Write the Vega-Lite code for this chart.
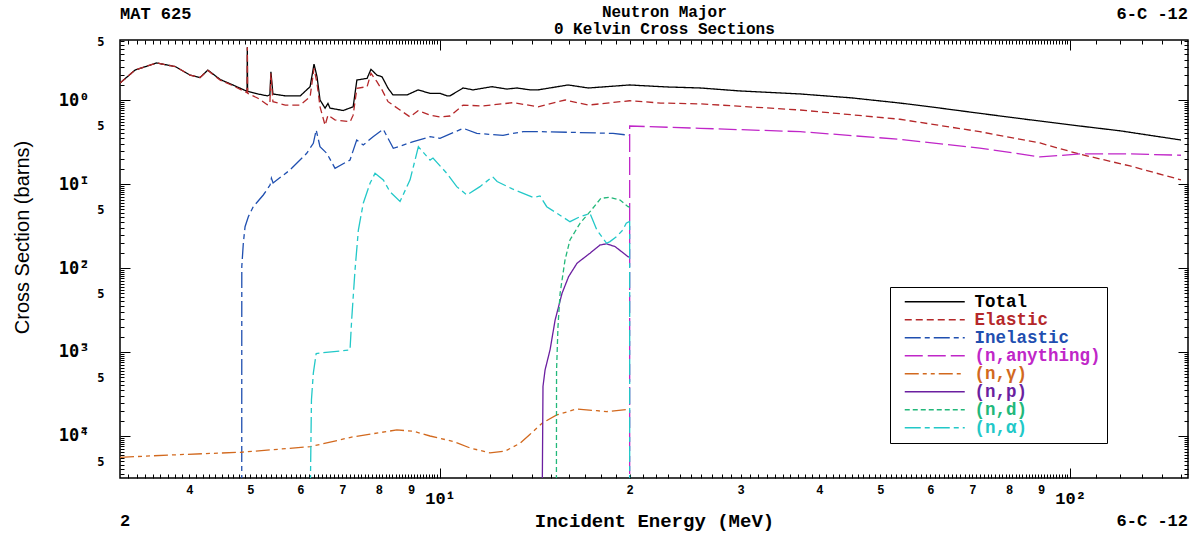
{
"$schema": "https://vega.github.io/schema/vega-lite/v6.json",
"width": 1068, "height": 438,
"autosize": "none",
"padding": {"left": 120, "top": 40, "right": 10, "bottom": 56},
"background": "white",
"config": {
  "view": {"stroke": "#000", "strokeWidth": 1.5},
  "font": "Liberation Mono",
  "axis": {"grid": false, "domain": false, "tickColor": "#000", "tickWidth": 1, "labelFont": "Liberation Mono", "labelFontWeight": "bold", "labelColor": "#000", "labelOverlap": false, "labelFlush": false, "titleColor": "#000"}
},
"datasets": {
"xs": [
{"reaction":"Total","energy":3.105,"xs":1.59},{"reaction":"Total","energy":3.28,"xs":2.27},{"reaction":"Total","energy":3.55,"xs":2.76},{"reaction":"Total","energy":3.8,"xs":2.5},{"reaction":"Total","energy":4.01,"xs":1.98},{"reaction":"Total","energy":4.16,"xs":1.85},{"reaction":"Total","energy":4.28,"xs":2.27},{"reaction":"Total","energy":4.48,"xs":1.75},{"reaction":"Total","energy":4.69,"xs":1.51},{"reaction":"Total","energy":4.94,"xs":1.27},{"reaction":"Total","energy":4.945,"xs":4.25},{"reaction":"Total","energy":4.95,"xs":1.27},{"reaction":"Total","energy":5.14,"xs":1.18},{"reaction":"Total","energy":5.32,"xs":1.12},{"reaction":"Total","energy":5.37,"xs":1.15},{"reaction":"Total","energy":5.39,"xs":2.17},{"reaction":"Total","energy":5.43,"xs":1.18},{"reaction":"Total","energy":5.68,"xs":1.12},{"reaction":"Total","energy":6.0,"xs":1.12},{"reaction":"Total","energy":6.22,"xs":1.44},{"reaction":"Total","energy":6.31,"xs":2.68},{"reaction":"Total","energy":6.38,"xs":1.89},{"reaction":"Total","energy":6.45,"xs":1.0},{"reaction":"Total","energy":6.57,"xs":0.8},{"reaction":"Total","energy":6.64,"xs":0.91},{"reaction":"Total","energy":6.69,"xs":0.8},{"reaction":"Total","energy":7.02,"xs":0.75},{"reaction":"Total","energy":7.28,"xs":0.83},{"reaction":"Total","energy":7.38,"xs":1.73},{"reaction":"Total","energy":7.66,"xs":1.81},{"reaction":"Total","energy":7.77,"xs":2.32},{"reaction":"Total","energy":7.94,"xs":1.98},{"reaction":"Total","energy":8.09,"xs":1.89},{"reaction":"Total","energy":8.27,"xs":1.38},{"reaction":"Total","energy":8.42,"xs":1.15},{"reaction":"Total","energy":8.87,"xs":1.15},{"reaction":"Total","energy":9.23,"xs":1.32},{"reaction":"Total","energy":9.64,"xs":1.2},{"reaction":"Total","energy":10.0,"xs":1.2},{"reaction":"Total","energy":10.26,"xs":1.12},{"reaction":"Total","energy":10.37,"xs":1.12},{"reaction":"Total","energy":10.88,"xs":1.39},{"reaction":"Total","energy":11.28,"xs":1.32},{"reaction":"Total","energy":12.09,"xs":1.44},{"reaction":"Total","energy":12.77,"xs":1.35},{"reaction":"Total","energy":13.25,"xs":1.39},{"reaction":"Total","energy":13.9,"xs":1.32},{"reaction":"Total","energy":14.31,"xs":1.32},{"reaction":"Total","energy":15.97,"xs":1.51},{"reaction":"Total","energy":17.2,"xs":1.39},{"reaction":"Total","energy":20.0,"xs":1.51},{"reaction":"Total","energy":22.9,"xs":1.43},{"reaction":"Total","energy":25.9,"xs":1.39},{"reaction":"Total","energy":30,"xs":1.28},{"reaction":"Total","energy":37.3,"xs":1.18},{"reaction":"Total","energy":45,"xs":1.06},{"reaction":"Total","energy":53.7,"xs":0.92},{"reaction":"Total","energy":60,"xs":0.83},{"reaction":"Total","energy":71.9,"xs":0.694},{"reaction":"Total","energy":85,"xs":0.59},{"reaction":"Total","energy":103.7,"xs":0.49},{"reaction":"Total","energy":120,"xs":0.43},{"reaction":"Total","energy":150,"xs":0.334},
{"reaction":"Elastic","energy":3.105,"xs":1.59},{"reaction":"Elastic","energy":3.28,"xs":2.27},{"reaction":"Elastic","energy":3.55,"xs":2.76},{"reaction":"Elastic","energy":3.8,"xs":2.5},{"reaction":"Elastic","energy":4.01,"xs":1.98},{"reaction":"Elastic","energy":4.16,"xs":1.85},{"reaction":"Elastic","energy":4.28,"xs":2.25},{"reaction":"Elastic","energy":4.48,"xs":1.72},{"reaction":"Elastic","energy":4.69,"xs":1.48},{"reaction":"Elastic","energy":4.94,"xs":1.22},{"reaction":"Elastic","energy":4.945,"xs":4.25},{"reaction":"Elastic","energy":4.95,"xs":1.2},{"reaction":"Elastic","energy":5.14,"xs":1.05},{"reaction":"Elastic","energy":5.32,"xs":0.88},{"reaction":"Elastic","energy":5.37,"xs":0.9},{"reaction":"Elastic","energy":5.39,"xs":2.08},{"reaction":"Elastic","energy":5.43,"xs":0.955},{"reaction":"Elastic","energy":5.68,"xs":0.87},{"reaction":"Elastic","energy":6.0,"xs":0.87},{"reaction":"Elastic","energy":6.22,"xs":1.09},{"reaction":"Elastic","energy":6.31,"xs":2.38},{"reaction":"Elastic","energy":6.38,"xs":1.58},{"reaction":"Elastic","energy":6.45,"xs":0.83},{"reaction":"Elastic","energy":6.57,"xs":0.5},{"reaction":"Elastic","energy":6.64,"xs":0.66},{"reaction":"Elastic","energy":6.81,"xs":0.58},{"reaction":"Elastic","energy":7.2,"xs":0.55},{"reaction":"Elastic","energy":7.28,"xs":0.66},{"reaction":"Elastic","energy":7.38,"xs":1.38},{"reaction":"Elastic","energy":7.66,"xs":1.44},{"reaction":"Elastic","energy":7.77,"xs":2.08},{"reaction":"Elastic","energy":7.94,"xs":1.65},{"reaction":"Elastic","energy":8.09,"xs":1.32},{"reaction":"Elastic","energy":8.27,"xs":0.955},{"reaction":"Elastic","energy":8.64,"xs":0.76},{"reaction":"Elastic","energy":8.96,"xs":0.63},{"reaction":"Elastic","energy":9.23,"xs":0.746},{"reaction":"Elastic","energy":9.64,"xs":0.66},{"reaction":"Elastic","energy":10.0,"xs":0.63},{"reaction":"Elastic","energy":10.37,"xs":0.645},{"reaction":"Elastic","energy":10.88,"xs":0.87},{"reaction":"Elastic","energy":11.7,"xs":0.85},{"reaction":"Elastic","energy":13.06,"xs":0.93},{"reaction":"Elastic","energy":14.31,"xs":0.83},{"reaction":"Elastic","energy":15.8,"xs":1.0},{"reaction":"Elastic","energy":17.2,"xs":0.87},{"reaction":"Elastic","energy":20.0,"xs":0.98},{"reaction":"Elastic","energy":22.4,"xs":0.92},{"reaction":"Elastic","energy":25.9,"xs":0.9},{"reaction":"Elastic","energy":37.3,"xs":0.76},{"reaction":"Elastic","energy":53.7,"xs":0.59},{"reaction":"Elastic","energy":71.9,"xs":0.42},{"reaction":"Elastic","energy":89.6,"xs":0.308},{"reaction":"Elastic","energy":103.7,"xs":0.226},{"reaction":"Elastic","energy":124.5,"xs":0.164},{"reaction":"Elastic","energy":150,"xs":0.112},
{"reaction":"Inelastic","energy":4.845,"xs":0.00001},{"reaction":"Inelastic","energy":4.846,"xs":0.0104},{"reaction":"Inelastic","energy":4.873,"xs":0.0197},{"reaction":"Inelastic","energy":4.904,"xs":0.031},{"reaction":"Inelastic","energy":4.963,"xs":0.0408},{"reaction":"Inelastic","energy":5.054,"xs":0.0537},{"reaction":"Inelastic","energy":5.242,"xs":0.074},{"reaction":"Inelastic","energy":5.373,"xs":0.097},{"reaction":"Inelastic","energy":5.4,"xs":0.117},{"reaction":"Inelastic","energy":5.433,"xs":0.103},{"reaction":"Inelastic","energy":5.78,"xs":0.147},{"reaction":"Inelastic","energy":6.143,"xs":0.232},{"reaction":"Inelastic","energy":6.294,"xs":0.305},{"reaction":"Inelastic","energy":6.36,"xs":0.44},{"reaction":"Inelastic","energy":6.449,"xs":0.278},{"reaction":"Inelastic","energy":6.61,"xs":0.232},{"reaction":"Inelastic","energy":6.813,"xs":0.154},{"reaction":"Inelastic","energy":7.197,"xs":0.193},{"reaction":"Inelastic","energy":7.375,"xs":0.334},{"reaction":"Inelastic","energy":7.554,"xs":0.291},{"reaction":"Inelastic","energy":7.83,"xs":0.366},{"reaction":"Inelastic","energy":8.128,"xs":0.448},{"reaction":"Inelastic","energy":8.43,"xs":0.266},{"reaction":"Inelastic","energy":9.07,"xs":0.319},{"reaction":"Inelastic","energy":9.642,"xs":0.366},{"reaction":"Inelastic","energy":10.0,"xs":0.35},{"reaction":"Inelastic","energy":10.89,"xs":0.46},{"reaction":"Inelastic","energy":11.44,"xs":0.4},{"reaction":"Inelastic","energy":12.59,"xs":0.38},{"reaction":"Inelastic","energy":13.55,"xs":0.42},{"reaction":"Inelastic","energy":14.41,"xs":0.42},{"reaction":"Inelastic","energy":16.68,"xs":0.41},{"reaction":"Inelastic","energy":18.82,"xs":0.4},{"reaction":"Inelastic","energy":20.0,"xs":0.38},
{"reaction":"(n,anything)","energy":20.0,"xs":0.00001},{"reaction":"(n,anything)","energy":20.0,"xs":0.49},{"reaction":"(n,anything)","energy":25.9,"xs":0.46},{"reaction":"(n,anything)","energy":37.3,"xs":0.42},{"reaction":"(n,anything)","energy":53.7,"xs":0.34},{"reaction":"(n,anything)","energy":71.9,"xs":0.268},{"reaction":"(n,anything)","energy":89.6,"xs":0.21},{"reaction":"(n,anything)","energy":103.7,"xs":0.228},{"reaction":"(n,anything)","energy":124.5,"xs":0.228},{"reaction":"(n,anything)","energy":150,"xs":0.22},
{"reaction":"(n,γ)","energy":3.105,"xs":0.0000557},{"reaction":"(n,γ)","energy":3.73,"xs":0.0000594},{"reaction":"(n,γ)","energy":4.82,"xs":0.000064},{"reaction":"(n,γ)","energy":6.22,"xs":0.0000746},{"reaction":"(n,γ)","energy":7.29,"xs":0.000098},{"reaction":"(n,γ)","energy":8.54,"xs":0.000118},{"reaction":"(n,γ)","energy":9.07,"xs":0.000114},{"reaction":"(n,γ)","energy":9.64,"xs":0.0001},{"reaction":"(n,γ)","energy":10.5,"xs":0.000086},{"reaction":"(n,γ)","energy":11.16,"xs":0.000072},{"reaction":"(n,γ)","energy":12.0,"xs":0.000063},{"reaction":"(n,γ)","energy":12.68,"xs":0.000066},{"reaction":"(n,γ)","energy":13.4,"xs":0.000082},{"reaction":"(n,γ)","energy":13.9,"xs":0.000105},{"reaction":"(n,γ)","energy":14.52,"xs":0.000142},{"reaction":"(n,γ)","energy":15.32,"xs":0.000178},{"reaction":"(n,γ)","energy":16.48,"xs":0.00021},{"reaction":"(n,γ)","energy":17.74,"xs":0.0002},{"reaction":"(n,γ)","energy":18.38,"xs":0.000195},{"reaction":"(n,γ)","energy":19.89,"xs":0.000207},{"reaction":"(n,γ)","energy":20.0,"xs":0.000207},
{"reaction":"(n,p)","energy":14.52,"xs":0.00001},{"reaction":"(n,p)","energy":14.57,"xs":0.00039},{"reaction":"(n,p)","energy":14.68,"xs":0.00061},{"reaction":"(n,p)","energy":14.95,"xs":0.00106},{"reaction":"(n,p)","energy":15.23,"xs":0.0024},{"reaction":"(n,p)","energy":15.62,"xs":0.005},{"reaction":"(n,p)","energy":16.0,"xs":0.0079},{"reaction":"(n,p)","energy":16.5,"xs":0.0114},{"reaction":"(n,p)","energy":17.3,"xs":0.015},{"reaction":"(n,p)","energy":17.95,"xs":0.0188},{"reaction":"(n,p)","energy":18.38,"xs":0.0194},{"reaction":"(n,p)","energy":18.96,"xs":0.018},{"reaction":"(n,p)","energy":19.89,"xs":0.0136},{"reaction":"(n,p)","energy":20.0,"xs":0.0135},
{"reaction":"(n,d)","energy":15.3,"xs":0.00001},{"reaction":"(n,d)","energy":15.31,"xs":0.0006},{"reaction":"(n,d)","energy":15.39,"xs":0.002},{"reaction":"(n,d)","energy":15.51,"xs":0.005},{"reaction":"(n,d)","energy":15.79,"xs":0.0124},{"reaction":"(n,d)","energy":16.08,"xs":0.0216},{"reaction":"(n,d)","energy":16.68,"xs":0.034},{"reaction":"(n,d)","energy":17.3,"xs":0.0468},{"reaction":"(n,d)","energy":18.0,"xs":0.0675},{"reaction":"(n,d)","energy":18.61,"xs":0.0694},{"reaction":"(n,d)","energy":19.31,"xs":0.0645},{"reaction":"(n,d)","energy":19.88,"xs":0.0537},{"reaction":"(n,d)","energy":20.0,"xs":0.053},
{"reaction":"(n,α)","energy":6.217,"xs":0.00001},{"reaction":"(n,α)","energy":6.251,"xs":0.00027},{"reaction":"(n,α)","energy":6.294,"xs":0.00056},{"reaction":"(n,α)","energy":6.36,"xs":0.00096},{"reaction":"(n,α)","energy":7.197,"xs":0.00106},{"reaction":"(n,α)","energy":7.24,"xs":0.0024},{"reaction":"(n,α)","energy":7.33,"xs":0.0095},{"reaction":"(n,α)","energy":7.42,"xs":0.0283},{"reaction":"(n,α)","energy":7.554,"xs":0.059},{"reaction":"(n,α)","energy":7.743,"xs":0.102},{"reaction":"(n,α)","energy":7.886,"xs":0.134},{"reaction":"(n,α)","energy":8.128,"xs":0.112},{"reaction":"(n,α)","energy":8.328,"xs":0.081},{"reaction":"(n,α)","energy":8.641,"xs":0.062},{"reaction":"(n,α)","energy":8.963,"xs":0.112},{"reaction":"(n,α)","energy":9.24,"xs":0.278},{"reaction":"(n,α)","energy":9.642,"xs":0.193},{"reaction":"(n,α)","energy":9.747,"xs":0.204},{"reaction":"(n,α)","energy":10.25,"xs":0.134},{"reaction":"(n,α)","energy":10.63,"xs":0.093},{"reaction":"(n,α)","energy":11.03,"xs":0.074},{"reaction":"(n,α)","energy":11.57,"xs":0.093},{"reaction":"(n,α)","energy":12.12,"xs":0.122},{"reaction":"(n,α)","energy":12.32,"xs":0.107},{"reaction":"(n,α)","energy":13.0,"xs":0.088},{"reaction":"(n,α)","energy":14.06,"xs":0.069},{"reaction":"(n,α)","energy":14.41,"xs":0.072},{"reaction":"(n,α)","energy":14.77,"xs":0.0537},{"reaction":"(n,α)","energy":16.08,"xs":0.0356},{"reaction":"(n,α)","energy":16.68,"xs":0.0408},{"reaction":"(n,α)","energy":17.3,"xs":0.0446},{"reaction":"(n,α)","energy":17.74,"xs":0.0283},{"reaction":"(n,α)","energy":18.38,"xs":0.0197},{"reaction":"(n,α)","energy":18.61,"xs":0.0206},{"reaction":"(n,α)","energy":19.07,"xs":0.0237},{"reaction":"(n,α)","energy":19.5,"xs":0.0283},{"reaction":"(n,α)","energy":19.75,"xs":0.0342},{"reaction":"(n,α)","energy":19.96,"xs":0.0356},{"reaction":"(n,α)","energy":20.0,"xs":0.0356},{"reaction":"(n,α)","energy":20.0,"xs":0.00001}
]
},
"layer": [
{
  "data": {"name": "xs"},
  "mark": {"type": "line", "clip": true, "strokeWidth": 1.3},
  "encoding": {
    "x": {"field": "energy", "type": "quantitative",
      "scale": {"type": "log", "domain": [3.105, 153.9], "nice": false},
      "axis": {"orient": "bottom", "title": "Incident Energy (MeV)", "titleFont": "Liberation Mono", "titleFontSize": 19, "titleFontWeight": "bold", "titlePadding": 5,
        "values": [3.2,3.3,3.4,3.5,3.6,3.7,3.8,3.9,4,4.1,4.2,4.3,4.4,4.5,4.6,4.7,4.8,4.9,5,5.1,5.2,5.3,5.4,5.5,5.6,5.7,5.8,5.9,6,6.1,6.2,6.3,6.4,6.5,6.6,6.7,6.8,6.9,7,7.1,7.2,7.3,7.4,7.5,7.6,7.7,7.8,7.9,8,8.1,8.2,8.3,8.4,8.5,8.6,8.7,8.8,8.9,9,9.1,9.2,9.3,9.4,9.5,9.6,9.7,9.8,9.9,10,11,12,13,14,15,16,17,18,19,20,21,22,23,24,25,26,27,28,29,30,31,32,33,34,35,36,37,38,39,40,41,42,43,44,45,46,47,48,49,50,51,52,53,54,55,56,57,58,59,60,61,62,63,64,65,66,67,68,69,70,71,72,73,74,75,76,77,78,79,80,81,82,83,84,85,86,87,88,89,90,91,92,93,94,95,96,97,98,99,100,110,120,130,140,150],
        "labelExpr": "datum.value==10?'10¹':datum.value==100?'10²':(datum.value>=4&&datum.value<10&&datum.value==floor(datum.value))?''+datum.value:(datum.value>10&&datum.value<100&&datum.value%10==0)?''+(datum.value/10):''",
        "labelBaseline": "top",
        "labelFontSize": {"condition": {"test": "datum.value==10||datum.value==100", "value": 17}, "value": 12},
        "tickSize": {"condition": {"test": "datum.value==10||datum.value==100", "value": -10}, "value": -4},
        "labelPadding": {"condition": {"test": "datum.value==10||datum.value==100", "value": 22}, "value": 10}
      }
    },
    "y": {"field": "xs", "type": "quantitative",
      "scale": {"type": "log", "domain": [0.00003162, 5.18], "nice": false},
      "axis": {"orient": "left", "title": "Cross Section (barns)", "titleFont": "Liberation Sans", "titleFontSize": 20, "titleFontWeight": "normal", "titlePadding": 26, "titleY": 197,
        "labelFont": "DejaVu Sans Mono",
        "values": [0.000035,0.00004,0.000045,0.00005,0.000055,0.00006,0.000065,0.00007,0.000075,0.00008,0.000085,0.00009,0.000095,0.0001,0.00015,0.0002,0.00025,0.0003,0.00035,0.0004,0.00045,0.0005,0.00055,0.0006,0.00065,0.0007,0.00075,0.0008,0.00085,0.0009,0.00095,0.001,0.0015,0.002,0.0025,0.003,0.0035,0.004,0.0045,0.005,0.0055,0.006,0.0065,0.007,0.0075,0.008,0.0085,0.009,0.0095,0.01,0.015,0.02,0.025,0.03,0.035,0.04,0.045,0.05,0.055,0.06,0.065,0.07,0.075,0.08,0.085,0.09,0.095,0.1,0.15,0.2,0.25,0.3,0.35,0.4,0.45,0.5,0.55,0.6,0.65,0.7,0.75,0.8,0.85,0.9,0.95,1,1.5,2,2.5,3,3.5,4,4.5,5],
        "labelExpr": "datum.value==1?'10⁰':datum.value==0.1?'10̄¹':datum.value==0.01?'10̄²':datum.value==0.001?'10̄³':datum.value==0.0001?'10̄⁴':(datum.value==5||datum.value==0.5||datum.value==0.05||datum.value==0.005||datum.value==0.0005||datum.value==0.00005)?'5':''",
        "labelFontSize": {"condition": {"test": "datum.value==1||datum.value==0.1||datum.value==0.01||datum.value==0.001||datum.value==0.0001", "value": 17}, "value": 12},
        "tickSize": {"condition": {"test": "datum.value==1||datum.value==0.1||datum.value==0.01||datum.value==0.001||datum.value==0.0001", "value": -10}, "value": -4},
        "labelPadding": {"condition": {"test": "datum.value==1||datum.value==0.1||datum.value==0.01||datum.value==0.001||datum.value==0.0001", "value": 41}, "value": 20}
      }
    },
    "color": {"field": "reaction", "type": "nominal",
      "scale": {"domain": ["Total","Elastic","Inelastic","(n,anything)","(n,γ)","(n,p)","(n,d)","(n,α)"], "range": ["#000000","#b5282a","#1f4fb0","#c026c8","#d2691e","#6b1fa0","#22b87a","#22c8c8"]},
      "legend": {"title": null, "orient": "none", "legendX": 770, "legendY": 247, "direction": "vertical", "fillColor": "#ffffff", "strokeColor": "#000000", "padding": 6, "rowPadding": -1.2, "symbolType": "M0,0L12,0", "symbolSize": 100, "symbolStrokeWidth": 1.5, "labelFont": "Liberation Mono", "labelFontSize": 17.5, "labelFontWeight": "bold", "labelOffset": 61, "labelLimit": 300,
        "encode": {"labels": {"update": {"fill": {"scale": "color", "field": "value"}}}}}
    },
    "strokeDash": {"field": "reaction", "type": "nominal",
      "scale": {"domain": ["Total","Elastic","Inelastic","(n,anything)","(n,γ)","(n,p)","(n,d)","(n,α)"], "range": [[1,0],[7,4],[16,4,5,4],[18,5],[14,4,4,4,4,4],[1,0],[5,3],[16,4,5,4]]}
    },
    "order": {"value": null}
  }
},
{
  "data": {"values": [{"energy": 10, "xs": 1}]},
  "mark": {"type": "point", "opacity": 0},
  "encoding": {
    "x": {"field": "energy", "type": "quantitative",
      "axis": {"orient": "top", "labels": false, "title": null,
        "values": [3.2,3.3,3.4,3.5,3.6,3.7,3.8,3.9,4,4.1,4.2,4.3,4.4,4.5,4.6,4.7,4.8,4.9,5,5.1,5.2,5.3,5.4,5.5,5.6,5.7,5.8,5.9,6,6.1,6.2,6.3,6.4,6.5,6.6,6.7,6.8,6.9,7,7.1,7.2,7.3,7.4,7.5,7.6,7.7,7.8,7.9,8,8.1,8.2,8.3,8.4,8.5,8.6,8.7,8.8,8.9,9,9.1,9.2,9.3,9.4,9.5,9.6,9.7,9.8,9.9,10,11,12,13,14,15,16,17,18,19,20,21,22,23,24,25,26,27,28,29,30,31,32,33,34,35,36,37,38,39,40,41,42,43,44,45,46,47,48,49,50,51,52,53,54,55,56,57,58,59,60,61,62,63,64,65,66,67,68,69,70,71,72,73,74,75,76,77,78,79,80,81,82,83,84,85,86,87,88,89,90,91,92,93,94,95,96,97,98,99,100,110,120,130,140,150],
        "tickSize": {"condition": {"test": "datum.value==10||datum.value==100", "value": -10}, "value": -4}}
    },
    "y": {"field": "xs", "type": "quantitative",
      "axis": {"orient": "right", "labels": false, "title": null,
        "values": [0.000035,0.00004,0.000045,0.00005,0.000055,0.00006,0.000065,0.00007,0.000075,0.00008,0.000085,0.00009,0.000095,0.0001,0.00015,0.0002,0.00025,0.0003,0.00035,0.0004,0.00045,0.0005,0.00055,0.0006,0.00065,0.0007,0.00075,0.0008,0.00085,0.0009,0.00095,0.001,0.0015,0.002,0.0025,0.003,0.0035,0.004,0.0045,0.005,0.0055,0.006,0.0065,0.007,0.0075,0.008,0.0085,0.009,0.0095,0.01,0.015,0.02,0.025,0.03,0.035,0.04,0.045,0.05,0.055,0.06,0.065,0.07,0.075,0.08,0.085,0.09,0.095,0.1,0.15,0.2,0.25,0.3,0.35,0.4,0.45,0.5,0.55,0.6,0.65,0.7,0.75,0.8,0.85,0.9,0.95,1,1.5,2,2.5,3,3.5,4,4.5,5],
        "tickSize": {"condition": {"test": "datum.value==1||datum.value==0.1||datum.value==0.01||datum.value==0.001||datum.value==0.0001", "value": -10}, "value": -4}}
    }
  }
},
{
  "data": {"values": [{}]},
  "mark": {"type": "text", "text": "Neutron Major", "align": "center", "baseline": "middle", "dy": -28, "font": "Liberation Mono", "fontSize": 16, "fontWeight": "bold", "color": "#000"},
  "encoding": {"x": {"datum": 22.7, "type": "quantitative", "axis": null}, "y": {"datum": 5.18, "type": "quantitative", "axis": null}}
},
{
  "data": {"values": [{}]},
  "mark": {"type": "text", "text": "0 Kelvin Cross Sections", "align": "center", "baseline": "middle", "dy": -11, "font": "Liberation Mono", "fontSize": 16, "fontWeight": "bold", "color": "#000"},
  "encoding": {"x": {"datum": 22.7, "type": "quantitative", "axis": null}, "y": {"datum": 5.18, "type": "quantitative", "axis": null}}
},
{
  "data": {"values": [{}]},
  "mark": {"type": "text", "text": "MAT 625", "align": "left", "baseline": "middle", "dy": -26, "font": "Liberation Mono", "fontSize": 17, "fontWeight": "bold", "color": "#000"},
  "encoding": {"x": {"datum": 3.105, "type": "quantitative", "axis": null}, "y": {"datum": 5.18, "type": "quantitative", "axis": null}}
},
{
  "data": {"values": [{}]},
  "mark": {"type": "text", "text": "6-C -12", "align": "right", "baseline": "middle", "dy": -26, "font": "Liberation Mono", "fontSize": 17, "fontWeight": "bold", "color": "#000"},
  "encoding": {"x": {"datum": 153.9, "type": "quantitative", "axis": null}, "y": {"datum": 5.18, "type": "quantitative", "axis": null}}
},
{
  "data": {"values": [{}]},
  "mark": {"type": "text", "text": "2", "align": "left", "baseline": "middle", "dy": 43, "font": "Liberation Mono", "fontSize": 17, "fontWeight": "bold", "color": "#000"},
  "encoding": {"x": {"datum": 3.105, "type": "quantitative", "axis": null}, "y": {"datum": 0.00003162, "type": "quantitative", "axis": null}}
},
{
  "data": {"values": [{}]},
  "mark": {"type": "text", "text": "6-C -12", "align": "right", "baseline": "middle", "dy": 43, "font": "Liberation Mono", "fontSize": 17, "fontWeight": "bold", "color": "#000"},
  "encoding": {"x": {"datum": 153.9, "type": "quantitative", "axis": null}, "y": {"datum": 0.00003162, "type": "quantitative", "axis": null}}
}
],
"resolve": {"axis": {"x": "independent", "y": "independent"}}
}
